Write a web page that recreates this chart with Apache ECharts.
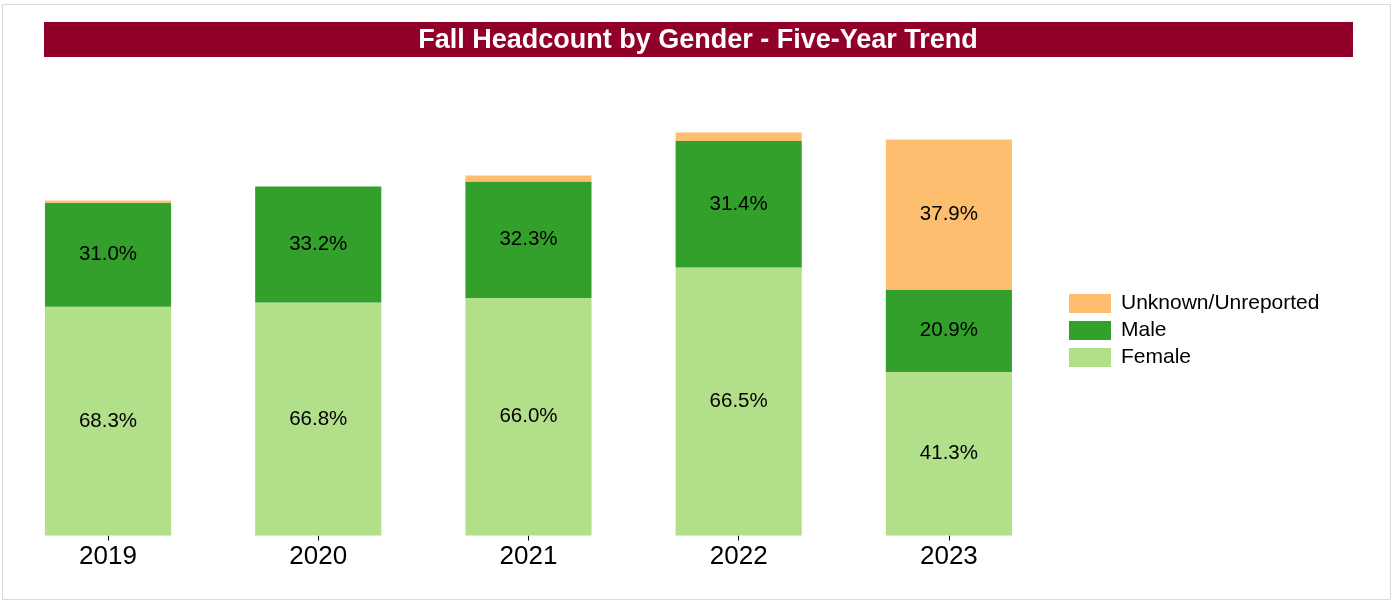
<!DOCTYPE html>
<html>
<head>
<meta charset="utf-8">
<script src="https://cdn.jsdelivr.net/npm/echarts@6/dist/echarts.min.js"></script>
<style>
html,body{margin:0;padding:0;background:#fff;}
#chart{width:1393px;height:602px;}
</style>
</head>
<body>
<div id="chart"></div>
<script>
const years = ['2019', '2020', '2021', '2022', '2023'];
const female = [2288, 2331, 2376, 2680, 1634];
const male = [1039, 1159, 1163, 1265, 827];
const unknown = [23, 0, 61, 85, 1499];
const seriesNames = ['Female', 'Male', 'Unknown/Unreported'];
const legendOrder = ['Unknown/Unreported', 'Male', 'Female'];
const titleText = 'Fall Headcount by Gender - Five-Year Trend';

const totals = years.map((_, i) => female[i] + male[i] + unknown[i]);
const FONT = '"Liberation Sans", Arial, sans-serif';

function pctLabel(p) {
  const v = p.value / totals[p.dataIndex] * 100;
  return v >= 5 ? v.toFixed(1) + '%' : '';
}

const colors = { 'Female': '#B2DF8A', 'Male': '#33A02C', 'Unknown/Unreported': '#FDBF6F' };
const dataMap = { 'Female': female, 'Male': male, 'Unknown/Unreported': unknown };

const chart = echarts.init(document.getElementById('chart'), null, { renderer: 'canvas' });
chart.setOption({
  animation: false,
  backgroundColor: '#fff',
  textStyle: { fontFamily: FONT },
  graphic: [
    { type: 'rect', silent: true, z: -10, shape: { x: 2.5, y: 4.5, width: 1388, height: 595 },
      style: { fill: 'none', stroke: '#d9d9d9', lineWidth: 1 } },
    { type: 'rect', silent: true, z: 0, shape: { x: 44, y: 22, width: 1309, height: 35 },
      style: { fill: '#910028' } }
  ],
  title: {
    text: titleText,
    left: 698, top: 41, textAlign: 'center', textVerticalAlign: 'middle',
    padding: 0,
    textStyle: { color: '#fff', fontWeight: 'bold', fontSize: 27, fontFamily: FONT }
  },
  legend: {
    data: legendOrder,
    orient: 'vertical',
    left: 1069, top: 293,
    padding: 0,
    itemWidth: 42, itemHeight: 19, itemGap: 6,
    icon: 'rect',
    textStyle: { fontSize: 21, color: '#000', fontFamily: FONT, padding: [0, 0, 0, 5] }
  },
  grid: { left: 2.9, right: 339, top: 85.5, bottom: 66.5, containLabel: false },
  xAxis: {
    type: 'category',
    data: years,
    axisLine: { show: false },
    axisTick: { show: true, alignWithLabel: true, length: 5, lineStyle: { color: '#000', width: 1 } },
    axisLabel: { fontSize: 26, color: '#000', fontFamily: FONT, margin: 8 }
  },
  yAxis: {
    type: 'value', min: 0, max: 4500, show: false,
    splitLine: { show: false }
  },
  series: seriesNames.map(name => ({
    name: name,
    type: 'bar',
    stack: 'total',
    barCategoryGap: '40%',
    data: dataMap[name],
    itemStyle: { color: colors[name] },
    label: {
      show: true, position: 'inside', formatter: pctLabel,
      fontSize: 20.5, color: '#000', fontFamily: FONT
    },
    emphasis: { disabled: true }
  }))
});
</script>
</body>
</html>
